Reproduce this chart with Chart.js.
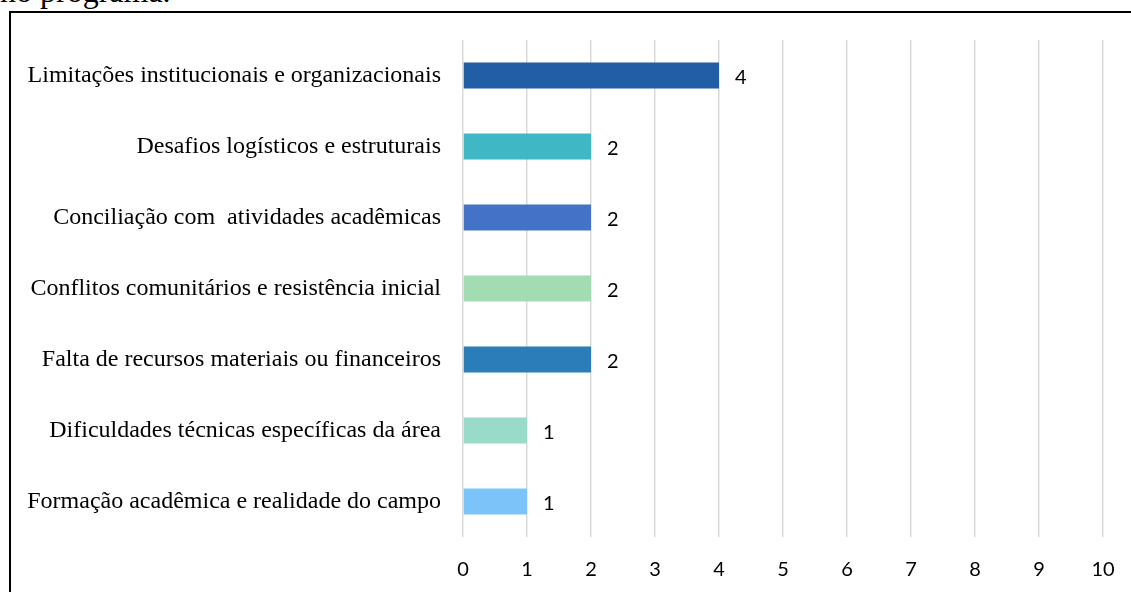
<!DOCTYPE html>
<html>
<head>
<meta charset="utf-8">
<script src="https://cdn.jsdelivr.net/npm/chart.js@4"></script>
<style>
  html, body { margin: 0; padding: 0; background: #fff; overflow: hidden; }
  #wrap { position: relative; width: 1131px; height: 592px; }
  #topo { position: absolute; left: 0; top: -25px; font: 32px "Liberation Serif", serif; line-height: 32px; color: #000; white-space: nowrap; }
  #moldura { position: absolute; left: 9px; top: 11px; width: 1140px; height: 600px; border: 2.5px solid #000; box-sizing: border-box; }
  canvas { position: absolute; left: 0; top: 0; }
</style>
</head>
<body>
<div id="wrap">
  <div id="topo">no programa.</div>
  <div id="moldura"></div>
  <canvas id="grafico" width="1131" height="592"></canvas>
</div>
<script>
// dados
const categorias = [
  'Limitações institucionais e organizacionais',
  'Desafios logísticos e estruturais',
  'Conciliação com  atividades acadêmicas',
  'Conflitos comunitários e resistência inicial',
  'Falta de recursos materiais ou financeiros',
  'Dificuldades técnicas específicas da área',
  'Formação acadêmica e realidade do campo'
];
const valores = [4, 2, 2, 2, 2, 1, 1];
const cores = ['#225EA5', '#40B7C5', '#4472C4', '#A2DCB2', '#2A7DB6', '#9ADAC8', '#7AC4FA'];
const ticksX = [0, 1, 2, 3, 4, 5, 6, 7, 8, 9, 10];

// rótulos de valor ao lado das barras
const rotulos = {
  id: 'rotulos',
  afterDatasetsDraw(chart) {
    const ctx = chart.ctx;
    const meta = chart.getDatasetMeta(0);
    ctx.save();
    ctx.font = '20px Lato, sans-serif';
    ctx.fillStyle = '#000';
    ctx.textAlign = 'left';
    ctx.textBaseline = 'middle';
    meta.data.forEach((bar, i) => {
      ctx.fillText(String(valores[i]), bar.x + 16, bar.y + 2);
    });
    ctx.restore();
  }
};

const data = {
  labels: categorias,
  datasets: [{
    data: valores,
    backgroundColor: cores,
    borderWidth: 0,
    barPercentage: 0.73,
    categoryPercentage: 0.5
  }]
};

const config = {
  type: 'bar',
  data,
  options: {
    indexAxis: 'y',
    responsive: false,
    animation: false,
    layout: { padding: { top: 40, right: 28, left: 0, bottom: 0 } },
    scales: {
      x: {
        min: 0,
        max: 10,
        afterBuildTicks(axis) { axis.ticks = ticksX.map(v => ({ value: v })); },
        afterFit(axis) {
          axis.height = 55;
          axis.paddingLeft = 0;
          axis.paddingRight = 0;
        },
        border: { display: false },
        grid: { color: '#d9d9d9', lineWidth: 1.5, drawTicks: false },
        ticks: {
          padding: 21,
          color: '#000',
          font: { family: 'Lato, sans-serif', size: 20 }
        }
      },
      y: {
        afterFit(axis) { axis.width = 463; },
        border: { display: false },
        grid: { display: false, drawTicks: false },
        ticks: {
          padding: 22,
          color: '#000',
          font: { family: '"Liberation Serif", serif', size: 24 }
        }
      }
    },
    plugins: {
      legend: { display: false },
      tooltip: { enabled: false }
    }
  },
  plugins: [rotulos]
};

new Chart(document.getElementById('grafico'), config);
</script>
</body>
</html>
